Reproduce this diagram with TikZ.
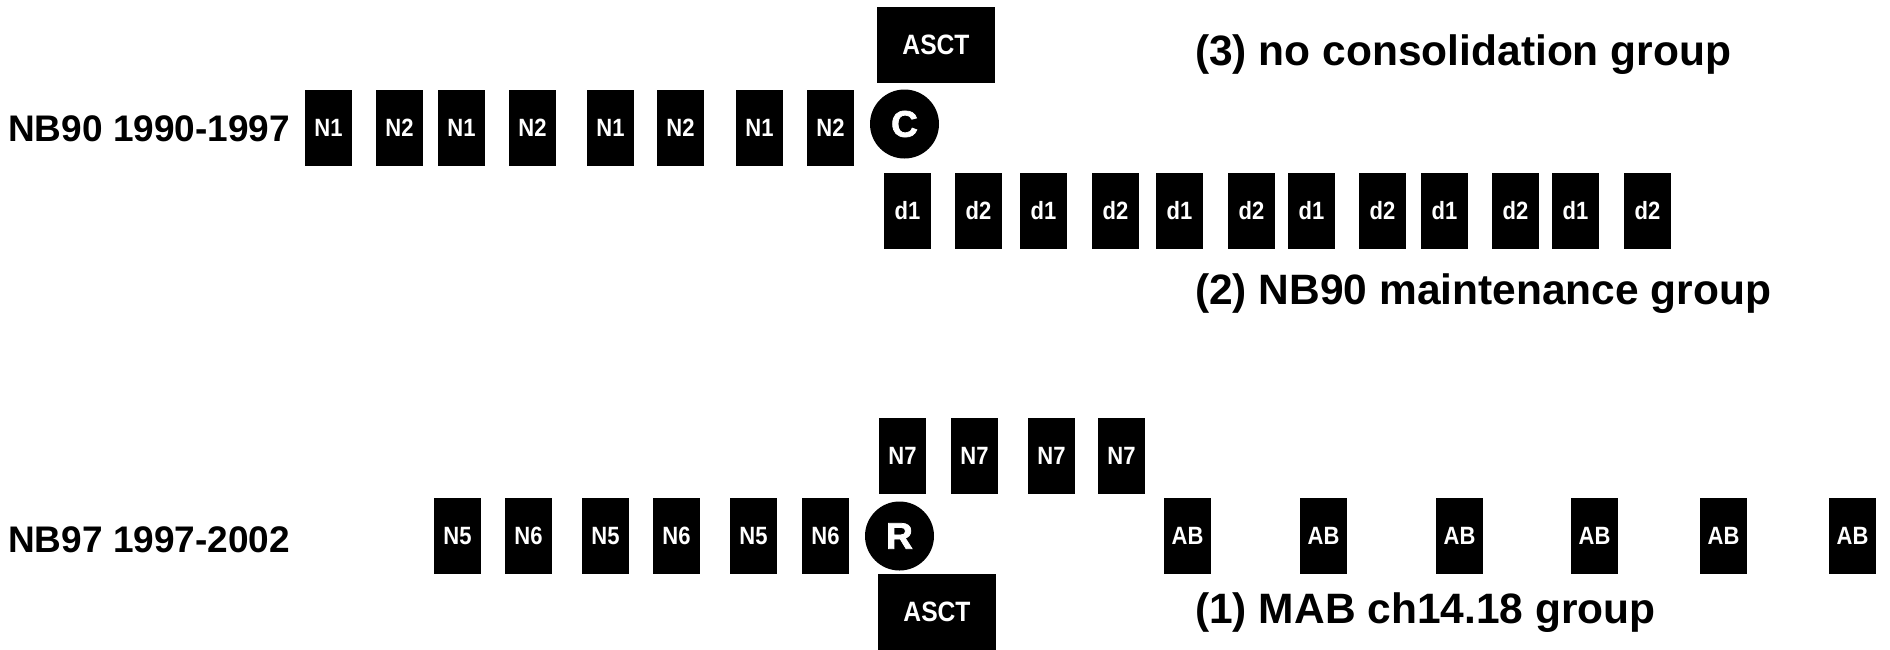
\documentclass[tikz,border=0pt]{standalone}
\usepackage{fontspec}
\setmainfont{Liberation Sans}
\newfontfamily\boxfont{Liberation Sans}[FakeStretch=0.88]
\newfontfamily\heavyfont{Liberation Sans}[FakeBold=2]
\begin{document}
\begin{tikzpicture}[x=1pt,y=-1pt,
  nbox/.style={fill=black,text=white,minimum width=47pt,minimum height=76pt,inner sep=0pt,
    font=\boxfont\bfseries\fontsize{25}{25}\selectfont},
  asct/.style={nbox,minimum width=118pt,font=\boxfont\bfseries\fontsize{28}{28}\selectfont},
  circ/.style={circle,fill=black,text=white,minimum size=69pt,inner sep=0pt,
    font=\heavyfont\bfseries\fontsize{37}{37}\selectfont},
  rowlabel/.style={anchor=base west,inner sep=0pt,font=\bfseries\fontsize{37}{37}\selectfont},
  grouplabel/.style={anchor=base west,inner sep=0pt,font=\bfseries\fontsize{42.5}{42.5}\selectfont}]
\useasboundingbox (0,0) rectangle (1890,649);
% row labels
\node[rowlabel] (lab90) at (8,141) {NB90 1990-1997};
\node[rowlabel] (lab97) at (8,552) {NB97 1997-2002};
% top row N1/N2
\node[nbox] (a1) at (328.5,127.5) {N1};
\node[nbox] (a2) at (399.5,127.5) {N2};
\node[nbox] (a3) at (461.5,127.5) {N1};
\node[nbox] (a4) at (532.5,127.5) {N2};
\node[nbox] (a5) at (610.5,127.5) {N1};
\node[nbox] (a6) at (680.5,127.5) {N2};
\node[nbox] (a7) at (759.5,127.5) {N1};
\node[nbox] (a8) at (830.5,127.5) {N2};
\node[circ] (C) at (904.5,124) {C};
\node[asct] (asct1) at (936,45) {ASCT};
% d row
\node[nbox] (d1) at (907.5,211) {d1};
\node[nbox] (d2) at (978.5,211) {d2};
\node[nbox] (d3) at (1043.5,211) {d1};
\node[nbox] (d4) at (1115.5,211) {d2};
\node[nbox] (d5) at (1179.5,211) {d1};
\node[nbox] (d6) at (1251.5,211) {d2};
\node[nbox] (d7) at (1311.5,211) {d1};
\node[nbox] (d8) at (1382.5,211) {d2};
\node[nbox] (d9) at (1444.5,211) {d1};
\node[nbox] (d10) at (1515.5,211) {d2};
\node[nbox] (d11) at (1575.5,211) {d1};
\node[nbox] (d12) at (1647.5,211) {d2};
\node[grouplabel] (g3) at (1195,65) {(3) no consolidation group};
\node[grouplabel] (g2) at (1195,304) {(2) NB90 maintenance group};
% bottom row
\node[nbox] (b1) at (457.5,536) {N5};
\node[nbox] (b2) at (528.5,536) {N6};
\node[nbox] (b3) at (605.5,536) {N5};
\node[nbox] (b4) at (676.5,536) {N6};
\node[nbox] (b5) at (753.5,536) {N5};
\node[nbox] (b6) at (825.5,536) {N6};
\node[circ] (R) at (899.5,536) {R};
\node[asct] (asct2) at (937,612) {ASCT};
\node[nbox] (n1) at (902.5,456) {N7};
\node[nbox] (n2) at (974.5,456) {N7};
\node[nbox] (n3) at (1051.5,456) {N7};
\node[nbox] (n4) at (1121.5,456) {N7};
\node[nbox] (ab1) at (1187.5,536) {AB};
\node[nbox] (ab2) at (1323.5,536) {AB};
\node[nbox] (ab3) at (1459.5,536) {AB};
\node[nbox] (ab4) at (1594.5,536) {AB};
\node[nbox] (ab5) at (1723.5,536) {AB};
\node[nbox] (ab6) at (1852.5,536) {AB};
\node[grouplabel] (g1) at (1195,623) {(1) MAB ch14.18 group};
\end{tikzpicture}
\end{document}
